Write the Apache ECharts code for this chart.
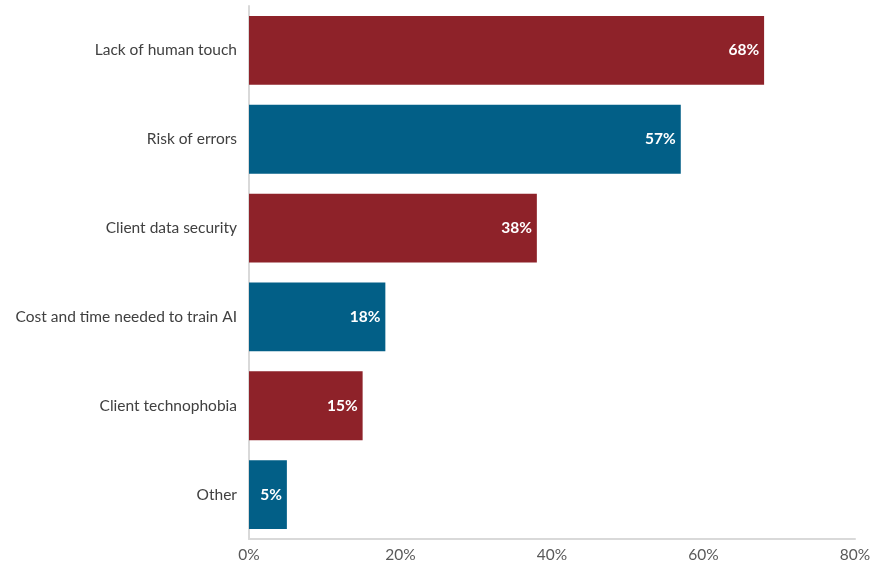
<!DOCTYPE html>
<html><head><meta charset="utf-8">
<script src="https://cdn.jsdelivr.net/npm/echarts@6/dist/echarts.min.js"></script>
<style>html,body{margin:0;padding:0;background:#fff}#c{width:888px;height:564px}</style>
</head><body><div id="c"></div>
<script>
const categories = ["Lack of human touch","Risk of errors","Client data security","Cost and time needed to train AI","Client technophobia","Other"];
const values = [68,57,38,18,15,5];
const barColors = ["#8E2229","#025F87","#8E2229","#025F87","#8E2229","#025F87"];
const xTicks = [0,20,40,60,80];

const chart = echarts.init(document.getElementById('c'));
chart.setOption({
  animation:false,
  grid:{left:249,right:33,top:6,bottom:25,containLabel:false},
  xAxis:{type:'value',min:0,max:80,interval:20,
    axisLine:{show:true,lineStyle:{color:'#d9d9d9',width:2}},
    axisTick:{show:false},splitLine:{show:false},
    axisLabel:{formatter:v=>v+'%',color:'#595959',fontFamily:'Lato',fontSize:15.5,margin:8}},
  yAxis:{type:'category',data:categories.slice().reverse(),
    axisLine:{show:true,lineStyle:{color:'#d9d9d9',width:2}},
    axisTick:{show:false},
    axisLabel:{color:'#404040',fontFamily:'Lato',fontSize:15.5,margin:12}},
  series:[{type:'bar',barWidth:'77.5%',
    data:values.slice().reverse().map((v,i)=>({value:v,itemStyle:{color:barColors.slice().reverse()[i]}})),
    label:{show:true,position:'insideRight',formatter:p=>p.value+'%',color:'#fff',fontWeight:'bold',fontFamily:'Lato',fontSize:15.5,distance:5}}]
});
</script></body></html>
